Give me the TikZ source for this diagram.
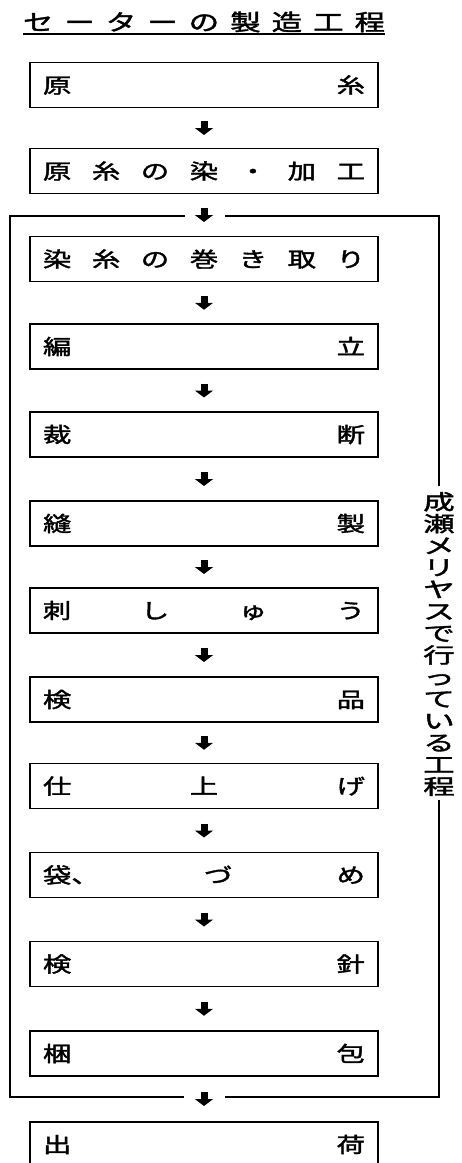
\documentclass[tikz,border=0pt]{standalone}
\usepackage{fontspec}
\usepackage{graphicx}
\newfontfamily\jp{Noto Sans CJK JP}[FakeBold=1.6]
\usetikzlibrary{arrows.meta,calc}
\newcommand\wch[1]{\scalebox{1.35}[1]{#1}}
\newcommand\vch[1]{\scalebox{1.5}[1]{#1}}
\newcommand\spr[1]{\hbox to 322pt{#1}}
\begin{document}
\begin{tikzpicture}[x=1pt,y=-1pt,
  stepbox/.style={draw,line width=1.8pt,minimum width=348pt,minimum height=45pt,inner sep=0pt,
    font=\jp\fontsize{21}{21}\selectfont},
  flow/.style={line width=7pt,-{Triangle[width=18pt,length=7pt]}},
  brk/.style={line width=2pt}]
\useasboundingbox (0,0) rectangle (461,1163);
\clip (0,0) rectangle (461,1163);
% title
\node[anchor=base,inner sep=0pt,font=\jp\fontsize{22.5}{22.5}\selectfont] (title) at (204,30.5)
  {\hbox to 362pt{\wch{セ}\hfill\wch{ー}\hfill\wch{タ}\hfill\wch{ー}\hfill\wch{の}\hfill\wch{製}\hfill\wch{造}\hfill\wch{工}\hfill\wch{程}}};
\draw[line width=2pt] ([yshift=-3pt]title.base west) -- ([yshift=-3pt]title.base east);
% boxes
\node[stepbox] (b1) at (204,85) {\spr{\wch{原}\hfill\wch{糸}}};
\node[stepbox] (b2) at (204,171) {\spr{\wch{原}\hfill\wch{糸}\hfill\wch{の}\hfill\wch{染}\hfill\wch{・}\hfill\wch{加}\hfill\wch{工}}};
\node[stepbox] (b3) at (204,259) {\spr{\wch{染}\hfill\wch{糸}\hfill\wch{の}\hfill\wch{巻}\hfill\wch{き}\hfill\wch{取}\hfill\wch{り}}};
\node[stepbox] (b4) at (204,346.5) {\spr{\wch{編}\hfill\wch{立}}};
\node[stepbox] (b5) at (204,434.5) {\spr{\wch{裁}\hfill\wch{断}}};
\node[stepbox] (b6) at (204,523.5) {\spr{\wch{縫}\hfill\wch{製}}};
\node[stepbox] (b7) at (204,610.5) {\spr{\wch{刺}\hfill\wch{し}\hfill\wch{ゅ}\hfill\wch{う}}};
\node[stepbox] (b8) at (204,699.5) {\spr{\wch{検}\hfill\wch{品}}};
\node[stepbox] (b9) at (204,786) {\spr{\wch{仕}\hfill\wch{上}\hfill\wch{げ}}};
\node[stepbox] (b10) at (204,875) {\spr{\wch{袋、}\hfill\wch{づ}\hfill\wch{め}}};
\node[stepbox] (b11) at (204,964) {\spr{\wch{検}\hfill\wch{針}}};
\node[stepbox] (b12) at (204,1053.5) {\spr{\wch{梱}\hfill\wch{包}}};
\node[stepbox] (b13) at (204,1144.5) {\spr{\wch{出}\hfill\wch{荷}}};
% arrows
\foreach \a/\b in {b1/b2,b2/b3,b3/b4,b4/b5,b5/b6,b6/b7,b7/b8,b8/b9,b9/b10,b10/b11,b11/b12,b12/b13}{
  \coordinate (m) at ($(\a.south)!0.5!(\b.north)$);
  \draw[flow] ([yshift=7pt]m) -- ([yshift=-7pt]m);
}
% bracket
\node[inner sep=0pt,align=center,font=\jp\fontsize{21}{21.9}\selectfont] (vt) at (439,644)
  {\vch{成}\\\vch{瀬}\\\vch{メ}\\\vch{リ}\\\vch{ヤ}\\\vch{ス}\\\vch{で}\\\vch{行}\\\vch{っ}\\\vch{て}\\\vch{い}\\\vch{る}\\\vch{工}\\\vch{程}};
\coordinate (tl) at (10,216);
\coordinate (tr) at (439,216);
\coordinate (bl) at (10,1097);
\coordinate (br) at (439,1097);
\coordinate (tg1) at (185,216);
\coordinate (tg2) at (225,216);
\coordinate (bg1) at (184,1097);
\coordinate (bg2) at (225,1097);
\draw[brk] (tg1) -- (tl) -- (bl) -- (bg1);
\draw[brk] (tg2) -- (tr) -- ([yshift=6pt]vt.north);
\draw[brk] ([yshift=-4pt]vt.south) -- (br) -- (bg2);
\end{tikzpicture}
\end{document}
